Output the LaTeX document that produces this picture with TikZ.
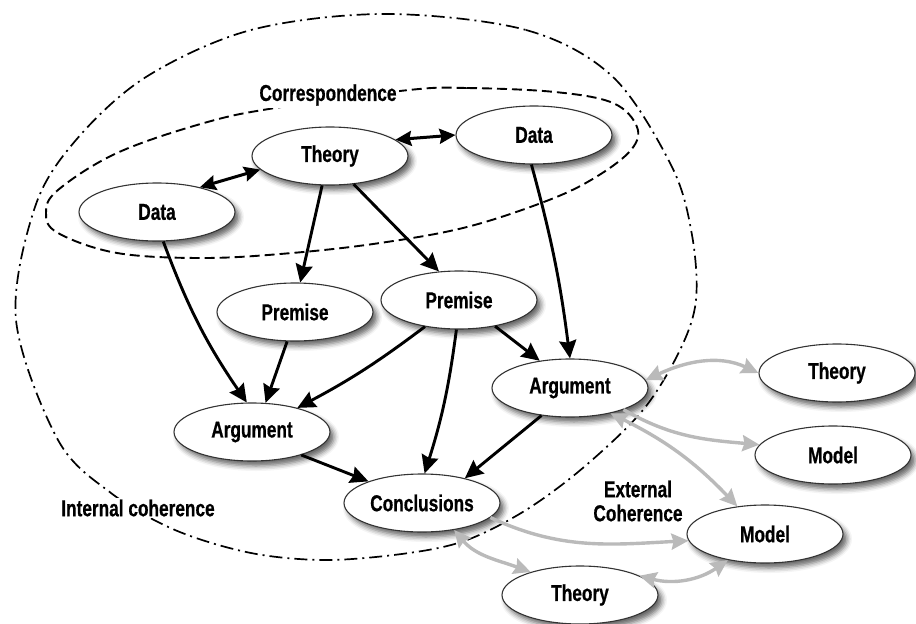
\documentclass[tikz,border=0pt]{standalone}
\usepackage{fontspec}
\newfontfamily\labfont{Liberation Sans}[FakeStretch=0.75, FakeBold=0.6]
\usetikzlibrary{arrows.meta,shapes.geometric,shadows.blur}

\begin{document}
\begin{tikzpicture}[x=1pt,y=1pt,
  every node/.style={font=\labfont\bfseries\fontsize{23}{24}\selectfont},
  ell/.style={ellipse, draw=black!80, line width=1.1pt, fill=white,
    minimum width=156pt, minimum height=58pt, inner sep=0pt,
    blur shadow={shadow xshift=4pt, shadow yshift=-5pt, shadow blur radius=5pt, shadow opacity=60}},
  tipk/.tip={Stealth[length=18pt,width=17pt,inset=2pt]},
  tipd/.tip={Stealth[length=16pt,width=15pt,inset=2pt]},
  tipg/.tip={Stealth[length=17pt,width=16pt,inset=2pt]},
  blk/.style={line width=2.9pt, -tipk},
  blkd/.style={line width=3pt, tipd-tipd},
  gry/.style={line width=3.4pt, draw=black!27, -tipg},
  gryd/.style={line width=3.4pt, draw=black!27, tipg-tipg},
  lbl/.style={fill=white, inner sep=2pt},
  dashdot/.style={line width=1.7pt, dash pattern=on 13pt off 5pt on 2pt off 5pt},
  dashline/.style={line width=1.9pt, dash pattern=on 10pt off 5pt}
]
\useasboundingbox (0,0) rectangle (916,-624);

% Internal coherence boundary
\draw[dashdot] plot[smooth cycle, tension=0.55] coordinates {
  (385,-14) (526,-30) (613,-77) (672,-167) (692,-235) (696,-300) (680,-350) (643,-410)
  (584,-467) (526,-510) (467,-540) (409,-553) (327,-560) (251,-553) (175,-530)
  (111,-493) (58,-440) (16,-320) (35,-207) (76,-140) (146,-77) (251,-30)};

% Correspondence boundary
\draw[dashline] plot[smooth cycle, tension=0.6] coordinates {
  (409,-90) (467,-88) (555,-92) (613,-103) (637,-127) (631,-150) (596,-177)
  (549,-200) (467,-227) (380,-243) (292,-253) (204,-258) (117,-253) (58,-233)
  (46,-213) (58,-190) (117,-153) (204,-123) (275,-108)};

% labels
\node[lbl] (corr) at (328,-95) {Correspondence};
\node[lbl] (intc) at (138,-508) {Internal coherence};
\node[align=center, inner sep=1pt] (extc) at (638,-501) {External\\Coherence};

% nodes
\node[ell] (theoryT) at (330,-156) {Theory};
\node[ell] (dataR) at (534,-135) {Data};
\node[ell] (dataL) at (157,-212) {Data};
\node[ell] (premL) at (295,-312) {Premise};
\node[ell] (premR) at (459,-300) {Premise};
\node[ell] (argL) at (252,-432) {Argument};
\node[ell] (argR) at (570,-388) {Argument};
\node[ell] (concl) at (422,-503) {Conclusions};
\node[ell] (theoryR) at (837,-373) {Theory};
\node[ell] (modelR) at (833,-455) {Model};
\node[ell] (modelB) at (765,-534) {Model};
\node[ell] (theoryB) at (580,-595) {Theory};

% black connectors
\draw[blkd] (theoryT.191) -- (dataL.30);
\draw[blkd] (theoryT.14) -- (dataR.180);
\draw[blk] (theoryT.255) -- (premL.80);
\draw[blk] (theoryT.-50) -- (premR.125);
\draw[blk] (dataR.265) to[bend left=4] (argR.north);
\draw[blk] (dataL.-78) to[bend right=7] (argL.100);
\draw[blk] (premL.-105) -- (argL.65);
\draw[blk] (premR.218) to[out=-143,in=28] (argL.28);
\draw[blk] (premR.-95) to[bend left=5] (concl.85);
\draw[blk] (premR.-36) -- (argR.138);
\draw[blk] (argL.-25) -- (concl.158);
\draw[blk] (argR.224) -- (concl.30);

% gray connectors
\draw[gryd] (argR.6) to[out=25,in=155] (theoryR.180);
\draw[gry] (argR.-22) to[out=-30,in=175] (modelR.172);
\draw[gryd] (argR.-32) to[bend left=10] (modelB.135);
\draw[gry] (concl.-12) to[out=-25,in=183] (modelB.185);
\draw[gryd] (concl.-40) to[out=-50,in=160] (theoryB.155);
\draw[gryd] (theoryB.18) to[bend right=25] (modelB.215);
\end{tikzpicture}
\end{document}
